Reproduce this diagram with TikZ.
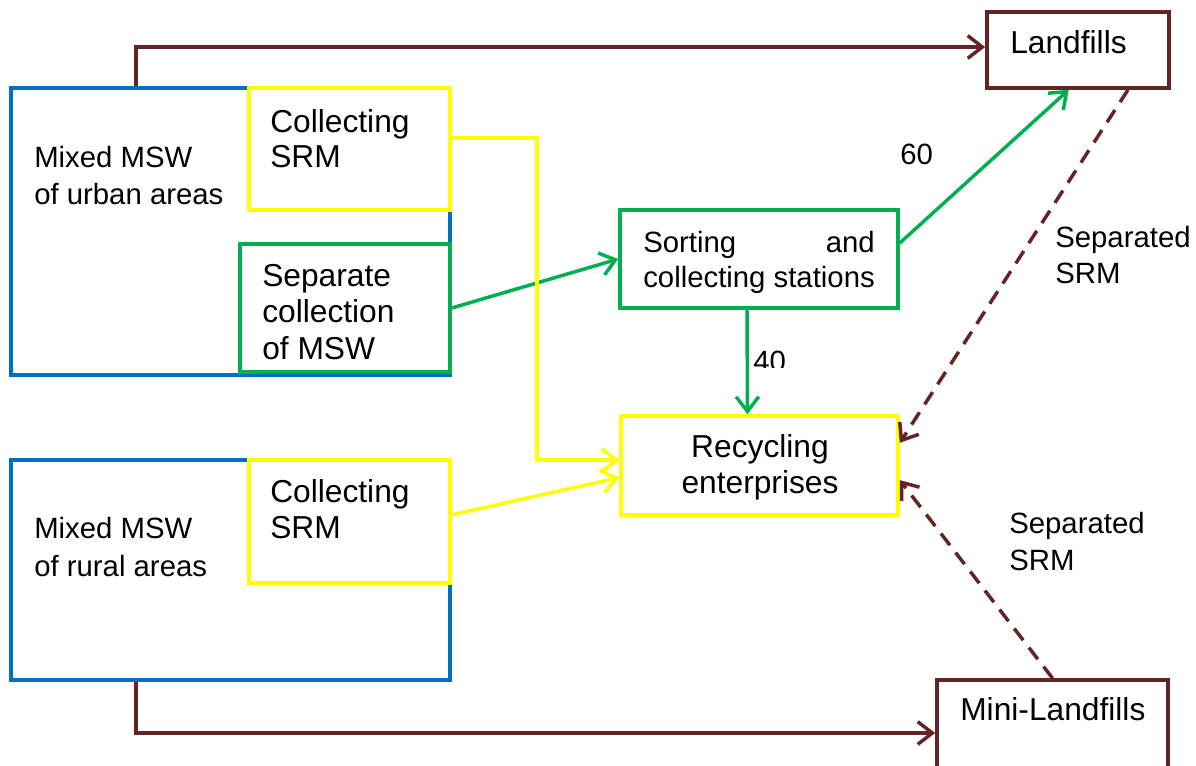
\documentclass[tikz,border=0pt]{standalone}
\usepackage{fontspec}
\setmainfont{Liberation Sans}
\usetikzlibrary{arrows.meta,fit}
\definecolor{cblue}{HTML}{0070C0}
\definecolor{cyel}{HTML}{FFFF00}
\definecolor{cgrn}{HTML}{00B050}
\definecolor{cbrn}{HTML}{632523}
\begin{document}
\begin{tikzpicture}[x=0.75pt,y=-0.75pt,
  box/.style={draw,line width=2.7pt,inner sep=0pt},
  bluebox/.style={box,draw=cblue},
  yelbox/.style={box,draw=cyel},
  grnbox/.style={box,draw=cgrn},
  brnbox/.style={box,draw=cbrn},
  conn/.style={line width=2.6pt,-{Straight Barb[length=11pt,width=17pt]}},
  yconn/.style={conn,draw=cyel},
  gconn/.style={conn,draw=cgrn},
  bconn/.style={conn,draw=cbrn},
  dconn/.style={conn,draw=cbrn,dash pattern=on 11pt off 7pt},
  tsmall/.style={font=\fontsize{22}{26}\selectfont,inner sep=0pt,anchor=base west},
  tbig/.style={font=\fontsize{23.8}{28}\selectfont,inner sep=0pt,anchor=base west}]
\useasboundingbox (0,0) rectangle (1196,765);
\clip (0,0) rectangle (1196,765);
\fill[white] (0,0) rectangle (1196,765);

% boxes
\node[bluebox,fit={(11,88) (450,375)}] (urban) {};
\node[bluebox,fit={(11,460) (450,680)}] (rural) {};
\node[yelbox,fit={(249,88) (450,210)}] (ycu) {};
\node[grnbox,fit={(240,244) (450,372)}] (sep) {};
\node[yelbox,fit={(249,460) (450,583)}] (ycr) {};
\node[brnbox,fit={(987,12) (1169,88)}] (landfills) {};
\node[grnbox,fit={(620,210) (898,308)}] (sort) {};
\node[yelbox,fit={(621,416) (898,515)}] (recyc) {};
\node[brnbox,fit={(937,680) (1168,786)}] (mini) {};

% texts
\node[tsmall] (t1) at (34,167) {Mixed MSW};
\node[tsmall] (t2) at (34,204) {of urban areas};
\node[tbig] (t3) at (270,132) {Collecting};
\node[tbig] (t4) at (270,167) {SRM};
\node[tbig] (t5) at (262,286) {Separate};
\node[tbig] (t6) at (262,322) {collection};
\node[tbig] (t7) at (262,359) {of MSW};
\node[tbig] (t8) at (1010,53) {Landfills};
\node[tsmall] (t9) at (643,252) {Sorting};
\node[tsmall,anchor=base east] (t10) at (875,252) {and};
\node[tsmall] (t11) at (643,287) {collecting stations};
\node[tsmall] (t12) at (900,164) {60};
\node[tsmall] (t14) at (1055,247) {Separated};
\node[tsmall] (t15) at (1055,283) {SRM};
\node[tbig,anchor=base] (t16) at (760,457) {Recycling};
\node[tbig,anchor=base] (t17) at (760,493) {enterprises};
\node[tsmall] (t18) at (1009,533) {Separated};
\node[tsmall] (t19) at (1009,570) {SRM};
\node[tbig] (t20) at (960,720) {Mini-Landfills};
\node[tbig] (t21) at (270,502) {Collecting};
\node[tbig] (t22) at (270,538) {SRM};
\node[tsmall] (t23) at (34,538) {Mixed MSW};
\node[tsmall] (t24) at (34,576) {of rural areas};
\begin{scope}
\clip (740,330) rectangle (820,367);
\node[tsmall] (t13) at (753,371) {40};
\end{scope}

% connectors
\draw[bconn] (urban.north west) ++(127,0) |- ([yshift=2.25pt]landfills.west);
\draw[bconn] (rural.south west) ++(127,0) |- (mini.west);
\draw[gconn] (sep.east) -- (sort.west);
\draw[gconn] ([yshift=12pt]sort.east) -- ([xshift=-7pt]landfills.south);
\draw[gconn] ([xshift=-9pt]sort.south) -- ([xshift=-9pt]recyc.north);
\draw[yconn] ([yshift=8.25pt]ycu.east) -- ++(85,0) |- ([yshift=4pt]recyc.west);
\draw[yconn] ([yshift=5pt]ycr.east) -- ([yshift=-9pt]recyc.west);
\draw[dconn] ([xshift=37.5pt]landfills.south) -- ([yshift=17pt]recyc.east);
\draw[dconn] (mini.north) -- ([yshift=-11pt]recyc.east);
\end{tikzpicture}
\end{document}
